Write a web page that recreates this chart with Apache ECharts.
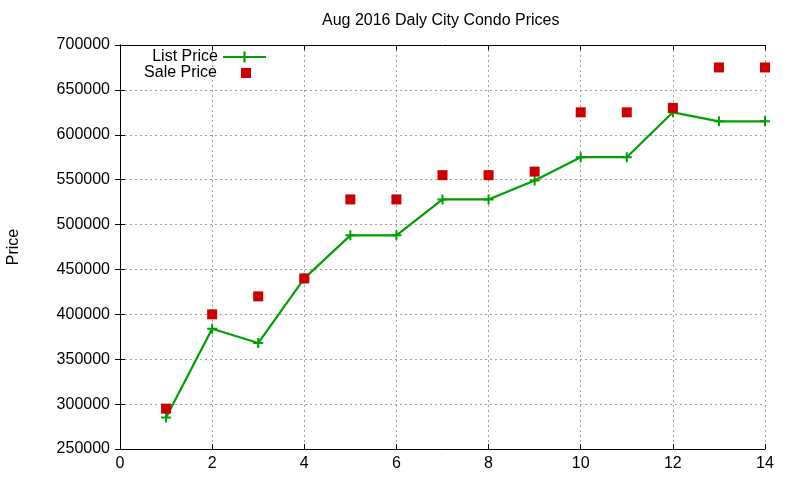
<!DOCTYPE html>
<html>
<head>
<meta charset="utf-8">
<script src="https://cdn.jsdelivr.net/npm/echarts@6/dist/echarts.min.js"></script>
<style>
  html, body { margin: 0; padding: 0; background: #fff; }
  #chart { width: 800px; height: 480px; }
</style>
</head>
<body>
<div id="chart"></div>
<script>
var listX = [1, 2, 3, 4, 5, 6, 7, 8, 9, 10, 11, 12, 13, 14];
var listPrice = [285000, 384000, 368000, 440000, 488000, 488000, 528000, 528000, 549000, 575000, 575000, 625000, 615000, 615000];
var saleX = [1, 2, 3, 4, 5, 6, 7, 8, 9, 10, 11, 12, 13, 14];
var salePrice = [295000, 400000, 420000, 440000, 528000, 528000, 555000, 555000, 559000, 625000, 625000, 630000, 675000, 675000];

(function() {
  var ink = '#000';
  var green = '#00a000';
  var red = '#cc0000';
  var gridCol = '#a0a0a0';
  var font = '"Liberation Sans", Arial, sans-serif';
  var plus = 'path://M4,0H6V4H10V6H6V10H4V6H0V4H4Z';

  var chart = echarts.init(document.getElementById('chart'), null, { renderer: 'canvas' });

  function pairs(xs, ys) {
    return xs.map(function(x, i) { return [x, ys[i]]; });
  }

  var tickStyle = { show: true, inside: true, length: 5, lineStyle: { color: ink } };

  chart.setOption({
    animation: false,
    backgroundColor: '#fff',
    textStyle: { fontFamily: font },
    title: {
      text: 'Aug 2016 Daly City Condo Prices',
      left: 322,
      top: 13,
      padding: 0,
      textStyle: { fontFamily: font, fontSize: 16, fontWeight: 'normal', color: ink }
    },
    legend: [{
      data: ['List Price'],
      align: 'right',
      right: 533,
      top: 49,
      padding: 0,
      itemWidth: 43,
      itemHeight: 14,
      textStyle: { fontFamily: font, fontSize: 16, color: ink }
    }, {
      data: ['Sale Price'],
      align: 'right',
      right: 549,
      top: 65,
      padding: 0,
      itemWidth: 10,
      itemHeight: 10,
      textStyle: { fontFamily: font, fontSize: 16, color: ink, padding: [0, 19, 0, 0] }
    }],
    grid: { left: 120, right: 35, top: 45, bottom: 31, outerBoundsMode: 'none' },
    xAxis: [{
      type: 'value',
      min: 0,
      max: 14,
      interval: 2,
      position: 'bottom',
      axisLine: { lineStyle: { color: ink, width: 1 } },
      axisTick: tickStyle,
      axisLabel: { color: ink, fontSize: 16, fontFamily: font, margin: 7 },
      splitLine: { show: true, lineStyle: { color: gridCol, type: [2, 3], width: 1 } }
    }, {
      type: 'value',
      min: 0,
      max: 14,
      interval: 2,
      position: 'top',
      axisLine: { show: true, lineStyle: { color: ink, width: 1 } },
      axisTick: tickStyle,
      axisLabel: { show: false },
      splitLine: { show: false }
    }],
    yAxis: [{
      type: 'value',
      min: 250000,
      max: 700000,
      interval: 50000,
      name: 'Price',
      nameLocation: 'middle',
      nameGap: 98,
      nameTextStyle: { color: ink, fontSize: 16, fontFamily: font },
      axisLine: { show: true, lineStyle: { color: ink, width: 1 } },
      axisTick: tickStyle,
      axisLabel: { color: ink, fontSize: 16, fontFamily: font, margin: 10, formatter: function(v) { return String(v); } },
      splitLine: { show: true, lineStyle: { color: gridCol, type: [2, 3], width: 1 } }
    }, {
      type: 'value',
      min: 250000,
      max: 700000,
      interval: 50000,
      position: 'right',
      axisLine: { show: true, lineStyle: { color: ink, width: 1 } },
      axisTick: tickStyle,
      axisLabel: { show: false },
      splitLine: { show: false }
    }],
    series: [{
      name: 'List Price',
      type: 'line',
      data: pairs(listX, listPrice),
      symbol: plus,
      symbolSize: 10,
      showAllSymbol: true,
      itemStyle: { color: green },
      lineStyle: { color: green, width: 2.2 },
      z: 2
    }, {
      name: 'Sale Price',
      type: 'scatter',
      data: pairs(saleX, salePrice),
      symbol: 'rect',
      symbolSize: 10,
      itemStyle: { color: red, opacity: 1 },
      z: 3
    }]
  });

  window.addEventListener('resize', function() { chart.resize(); });
})();
</script>
</body>
</html>
